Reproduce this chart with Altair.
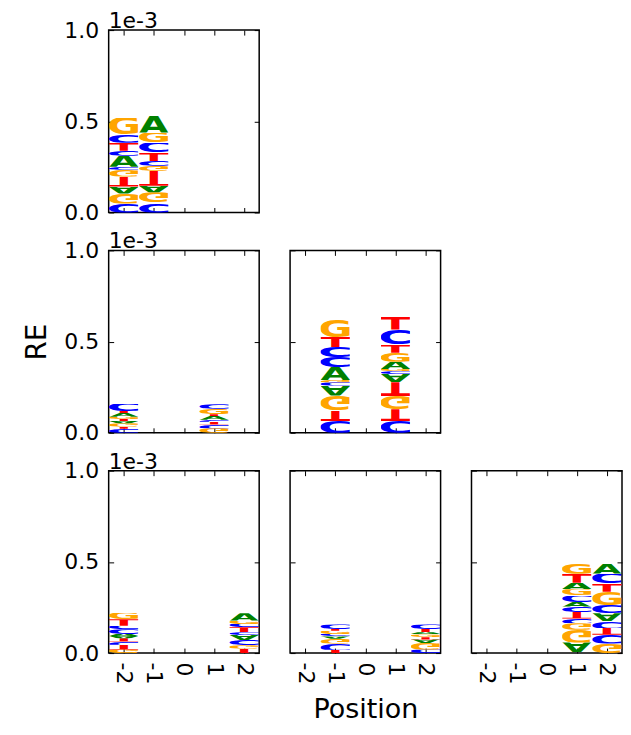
import base64
import altair as alt
import pandas as pd

# ---------------- data ----------------
positions = [-2, -1, 0, 1, 2]
y_ticks = [0.0, 0.5, 1.0]

panel_names = ["p_-2_-1", "p_-2_1", "p_-1_1", "p_-2_2", "p_-1_2", "p_1_2"]
panel_rows = [0, 1, 1, 2, 2, 2]
panel_cols = [0, 0, 1, 0, 1, 2]
panel_pos = [(-2, -1), (-2, 1), (-1, 1), (-2, 2), (-1, 2), (1, 2)]

# stacks: letters bottom -> top, flipped flag, heights (units of 1e-3)
A1_letters = list("CGATGCACTCG")
A1_flip = [1, 1, 1, 1, 1, 1, 0, 0, 0, 0, 0]
A1_h = [0.049, 0.055, 0.038, 0.055, 0.038, 0.016, 0.060, 0.027, 0.044, 0.044, 0.093]
A2_letters = list("CGATGCTCGA")
A2_flip = [1, 1, 1, 1, 1, 0, 0, 0, 0, 0]
A2_h = [0.049, 0.062, 0.036, 0.082, 0.027, 0.027, 0.045, 0.055, 0.055, 0.091]

B1_letters = list("CTGATGATC")
B1_flip = [1, 1, 1, 1, 0, 0, 0, 0, 0]
B1_h = [0.022, 0.012, 0.018, 0.012, 0.012, 0.012, 0.020, 0.012, 0.040]
B2_letters = list("GCTCATGC")
B2_flip = [1, 1, 1, 1, 0, 0, 0, 0]
B2_h = [0.025, 0.020, 0.015, 0.012, 0.020, 0.010, 0.030, 0.025]

C1_letters = list("CTGACGACCTG")
C1_flip = [1, 1, 1, 1, 1, 1, 0, 0, 0, 0, 0]
C1_h = [0.064, 0.058, 0.082, 0.055, 0.018, 0.013, 0.070, 0.055, 0.055, 0.055, 0.095]
C2_letters = list("CTGTACGAGTCT")
C2_flip = [1, 1, 1, 1, 1, 1, 0, 0, 0, 0, 0, 0]
C2_h = [0.065, 0.064, 0.073, 0.075, 0.045, 0.015, 0.012, 0.040, 0.050, 0.045, 0.082, 0.070]

D1_letters = list("GTCTAACCTG")
D1_flip = [1, 1, 1, 1, 1, 0, 0, 0, 0, 0]
D1_h = [0.020, 0.025, 0.018, 0.018, 0.012, 0.012, 0.025, 0.020, 0.035, 0.035]
D2_letters = list("TGCACTCGA")
D2_flip = [1, 1, 1, 1, 0, 0, 0, 0, 0]
D2_h = [0.025, 0.018, 0.028, 0.028, 0.015, 0.028, 0.018, 0.018, 0.040]

E1_letters = list("TCGACGTC")
E1_flip = [1, 1, 1, 1, 0, 0, 0, 0]
E1_h = [0.018, 0.035, 0.025, 0.013, 0.013, 0.018, 0.010, 0.025]
E2_letters = list("CGATGATC")
E2_flip = [1, 1, 1, 1, 0, 0, 0, 0]
E2_h = [0.020, 0.035, 0.020, 0.012, 0.015, 0.012, 0.018, 0.025]

F1_letters = list("AGGCTCACGATG")
F1_flip = [1, 1, 1, 1, 1, 0, 0, 0, 0, 0, 0, 0]
F1_h = [0.058, 0.070, 0.035, 0.027, 0.035, 0.030, 0.025, 0.035, 0.035, 0.035, 0.050, 0.055]
F2_letters = list("GCTCACGTCA")
F2_flip = [1, 1, 1, 1, 1, 0, 0, 0, 0, 0]
F2_h = [0.052, 0.049, 0.036, 0.036, 0.045, 0.045, 0.073, 0.045, 0.055, 0.055]

stacks = [
    [(A1_letters, A1_flip, A1_h), (A2_letters, A2_flip, A2_h)],
    [(B1_letters, B1_flip, B1_h), (B2_letters, B2_flip, B2_h)],
    [(C1_letters, C1_flip, C1_h), (C2_letters, C2_flip, C2_h)],
    [(D1_letters, D1_flip, D1_h), (D2_letters, D2_flip, D2_h)],
    [(E1_letters, E1_flip, E1_h), (E2_letters, E2_flip, E2_h)],
    [(F1_letters, F1_flip, F1_h), (F2_letters, F2_flip, F2_h)],
]

rows = []
for pi, name in enumerate(panel_names):
    for si, (lets, flips, hs) in enumerate(stacks[pi]):
        for k, (b, f, h) in enumerate(zip(lets, flips, hs)):
            rows.append({"panel": name, "pos": panel_pos[pi][si], "order": k,
                         "base": b, "flip": f, "h": h})
df = pd.DataFrame(rows)

# ---------------- glyph images ----------------
bases = ["A", "C", "G", "T"]
base_colors = ["#008000", "#0000ff", "#ffa500", "#ff0000"]
# advance, left trim, right trim, ymin, ymax (em) - DejaVu Sans Bold
glyph_box = {
    "A": (0.774, 0.000, 0.004, 0.0, 0.729),
    "C": (0.734, 0.050, 0.060, -0.014, 0.742),
    "G": (0.821, 0.050, 0.060, -0.014, 0.742),
    "T": (0.682, 0.002, 0.002, 0.0, 0.729),
}


def glyph_url(letter, color, flip):
    adv, lt, rt, y0, y1 = glyph_box[letter]
    s = 100
    x0 = lt * s
    w = (adv - lt - rt) * s
    h = (y1 - y0) * s
    if flip:
        vb = f"{x0:.2f} {y0*s:.2f} {w:.2f} {h:.2f}"
        tr = " transform='scale(1,-1)'"
    else:
        vb = f"{x0:.2f} {-y1*s:.2f} {w:.2f} {h:.2f}"
        tr = ""
    svg = (f"<svg xmlns='http://www.w3.org/2000/svg' width='{w:.1f}' height='{h:.1f}' "
           f"viewBox='{vb}' preserveAspectRatio='none'>"
           f"<text x='0' y='0' font-family='DejaVu Sans' font-weight='bold' "
           f"font-size='100' textLength='{adv*s:.1f}' lengthAdjust='spacingAndGlyphs' "
           f"fill='{color}'{tr}>{letter}</text></svg>")
    return "data:image/svg+xml;base64," + base64.b64encode(svg.encode()).decode()


glyph_rows = []
for b, col in zip(bases, base_colors):
    for f in (0, 1):
        glyph_rows.append({"key": f"{b}{f}", "url": glyph_url(b, col, f)})
glyph_df = pd.DataFrame(glyph_rows)

# ---------------- chart ----------------
W, H = 151, 183
TICK = 5
FONT = "DejaVu Sans"
xscale = alt.Scale(domain=[-2.5, 2.5], nice=False, zero=False)
yscale = alt.Scale(domain=[0, 1.0], nice=False, zero=False)
xlabel_expr = "datum.value < 0 ? '-' + abs(datum.value) : '' + datum.value"


def panel(i):
    r, c = panel_rows[i], panel_cols[i]
    base = (alt.Chart(df)
            .transform_filter(alt.datum.panel == panel_names[i])
            .transform_stack(stack="h", groupby=["pos"], as_=["y0", "y1"],
                             sort=[alt.SortField("order", order="ascending")])
            .transform_calculate(xa="datum.pos - 0.49", xb="datum.pos + 0.49",
                                 key="datum.base + datum.flip")
            .transform_lookup(lookup="key",
                              from_=alt.LookupData(glyph_df, "key", ["url"])))
    # inward ticks on both sides drawn as dashed grid lines
    left_axis = alt.Axis(orient="left", values=y_ticks, format=".1f", ticks=False,
                         tickSize=0, domain=False, grid=True, gridColor="black",
                         gridWidth=1, gridOpacity=1, gridDash=[TICK, W - 2 * TICK, TICK, 2000],
                         labels=(c == 0), labelFontSize=22, labelPadding=10,
                         labelColor="black", titleFontSize=28, titleFontWeight="normal",
                         titlePadding=12, titleColor="black")
    bottom_axis = alt.Axis(orient="bottom", values=positions, ticks=False, tickSize=0,
                           domain=False, grid=True, gridColor="black", gridWidth=1,
                           gridOpacity=1, gridDash=[TICK, H - 2 * TICK, TICK, 2000],
                           labels=(r == 2), labelAngle=90, labelExpr=xlabel_expr,
                           labelFontSize=22, labelPadding=9, labelColor="black",
                           titleFontSize=27, titleFontWeight="normal",
                           titlePadding=13, titleColor="black")
    ytitle = "RE" if (r == 1 and c == 0) else None
    xtitle = "Position" if (r == 2 and c == 1) else None
    props = dict(width=W, height=H)
    if c == 0:
        props["title"] = alt.TitleParams("1e-3", anchor="start", frame="group",
                                         fontSize=22, font=FONT, fontWeight="normal",
                                         offset=-14, color="black")
    return base.mark_image(aspect=False).encode(
        x=alt.X("xa:Q", scale=xscale, axis=bottom_axis, title=xtitle),
        x2="xb:Q",
        y=alt.Y("y0:Q", scale=yscale, axis=left_axis, title=ytitle),
        y2="y1:Q",
        url="url:N",
    ).properties(**props)


def blank():
    return (alt.Chart(alt.Data(values=[{"a": 0}])).mark_point(opacity=0)
            .encode(x=alt.X("a:Q", axis=None), y=alt.Y("a:Q", axis=None))
            .properties(width=W, height=H, view=alt.ViewBackground(strokeOpacity=0)))


grid = [[None] * 3 for _ in range(3)]
for i in range(len(panel_names)):
    grid[panel_rows[i]][panel_cols[i]] = panel(i)
cells = [grid[r][c] if grid[r][c] is not None else blank()
         for r in range(3) for c in range(3)]

chart = (alt.concat(*cells, columns=3, spacing={"row": 38, "column": 31}, bounds="flush")
         .properties(padding={"left": 15, "top": 0, "right": 0, "bottom": 0})
         .configure(font=FONT)
         .configure_view(stroke="black", strokeWidth=1.5))

chart.save("out.html", embed_options={"renderer": "svg", "actions": False})
